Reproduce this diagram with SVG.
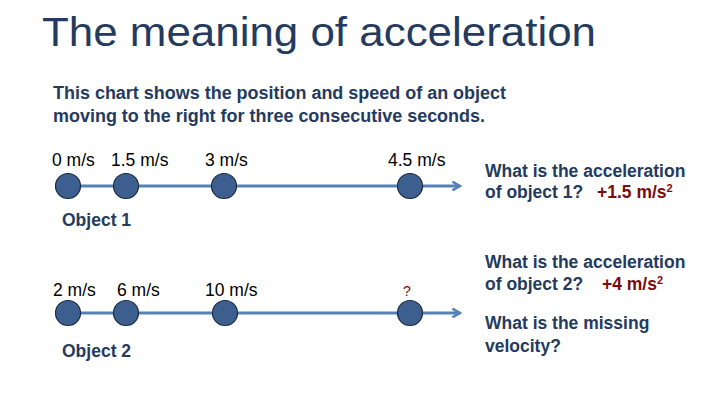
<svg xmlns="http://www.w3.org/2000/svg" width="720" height="405" viewBox="0 0 720 405">
<style>
.t{font-family:"Liberation Sans",Arial,sans-serif;fill:#243a5e}
.b{font-family:"Liberation Sans",Arial,sans-serif;font-weight:bold;font-size:17.5px;fill:#243a5e}
.v{font-family:"Liberation Sans",Arial,sans-serif;font-size:17.5px;fill:#000}
.r{font-family:"Liberation Sans",Arial,sans-serif;font-weight:bold;font-size:17.5px;fill:#7a0c0c}
.sup{font-family:"Liberation Sans",Arial,sans-serif;font-size:11px;fill:#7a0c0c}
.dot{fill:#3d5f8f;stroke:#1c2b40;stroke-width:1.2}
.ln{stroke:#5582b7;stroke-width:3;fill:none}
</style>
<defs>
<marker id="ah" viewBox="0 0 10 10" refX="8" refY="5" markerWidth="3.6" markerHeight="3.6" orient="auto" markerUnits="strokeWidth">
<path d="M1,1 L8,5 L1,9" fill="none" stroke="#5582b7" stroke-width="2.4"/>
</marker>
</defs>
<rect width="720" height="405" fill="#fff"/>
<text class="t" x="42" y="46" font-size="40" textLength="554" lengthAdjust="spacingAndGlyphs">The meaning of acceleration</text>
<text class="b" x="53" y="99" font-size="16" textLength="453" lengthAdjust="spacingAndGlyphs">This chart shows the position and speed of an object</text>
<text class="b" x="53" y="122" font-size="16" textLength="432" lengthAdjust="spacingAndGlyphs">moving to the right for three consecutive seconds.</text>
<g id="connectors">
<line class="ln" x1="68" y1="186" x2="460" y2="186" marker-end="url(#ah)"/>
<line class="ln" x1="68" y1="313" x2="460" y2="313" marker-end="url(#ah)"/>
</g>
<g id="obj1">
<g id="o1p1"><circle class="dot" cx="68" cy="186" r="12.5"/><text class="v" x="52" y="166">0 m/s</text></g>
<g id="o1p2"><circle class="dot" cx="126" cy="186" r="12.5"/><text class="v" x="111" y="166">1.5 m/s</text></g>
<g id="o1p3"><circle class="dot" cx="224" cy="186" r="12.5"/><text class="v" x="205" y="166">3 m/s</text></g>
<g id="o1p4"><circle class="dot" cx="410" cy="186" r="12.5"/><text class="v" x="388" y="166">4.5 m/s</text></g>
<text class="b" x="62" y="226">Object 1</text>
</g>
<g id="obj2">
<g id="o2p1"><circle class="dot" cx="68" cy="313" r="12.5"/><text class="v" x="53" y="296">2 m/s</text></g>
<g id="o2p2"><circle class="dot" cx="126" cy="313" r="12.5"/><text class="v" x="117" y="296">6 m/s</text></g>
<g id="o2p3"><circle class="dot" cx="225" cy="313" r="12.5"/><text class="v" x="205" y="296">10 m/s</text></g>
<g id="o2p4"><circle class="dot" cx="410" cy="313" r="12.5"/><text x="403" y="296" font-family="Liberation Sans,Arial,sans-serif" font-size="14" fill="#7a0c0c">?</text></g>
<text class="b" x="62" y="357">Object 2</text>
</g>
<g id="questions">
<text class="b" x="485" y="177">What is the acceleration</text>
<text class="b" x="485" y="198">of object 1?</text>
<text class="r" x="597" y="198">+1.5 m/s<tspan class="sup" dy="-6">2</tspan></text>
<text class="b" x="485" y="268">What is the acceleration</text>
<text class="b" x="485" y="290">of object 2?</text>
<text class="r" x="602" y="290">+4 m/s<tspan class="sup" dy="-6">2</tspan></text>
<text class="b" x="485" y="329">What is the missing</text>
<text class="b" x="485" y="352">velocity?</text>
</g>
</svg>
